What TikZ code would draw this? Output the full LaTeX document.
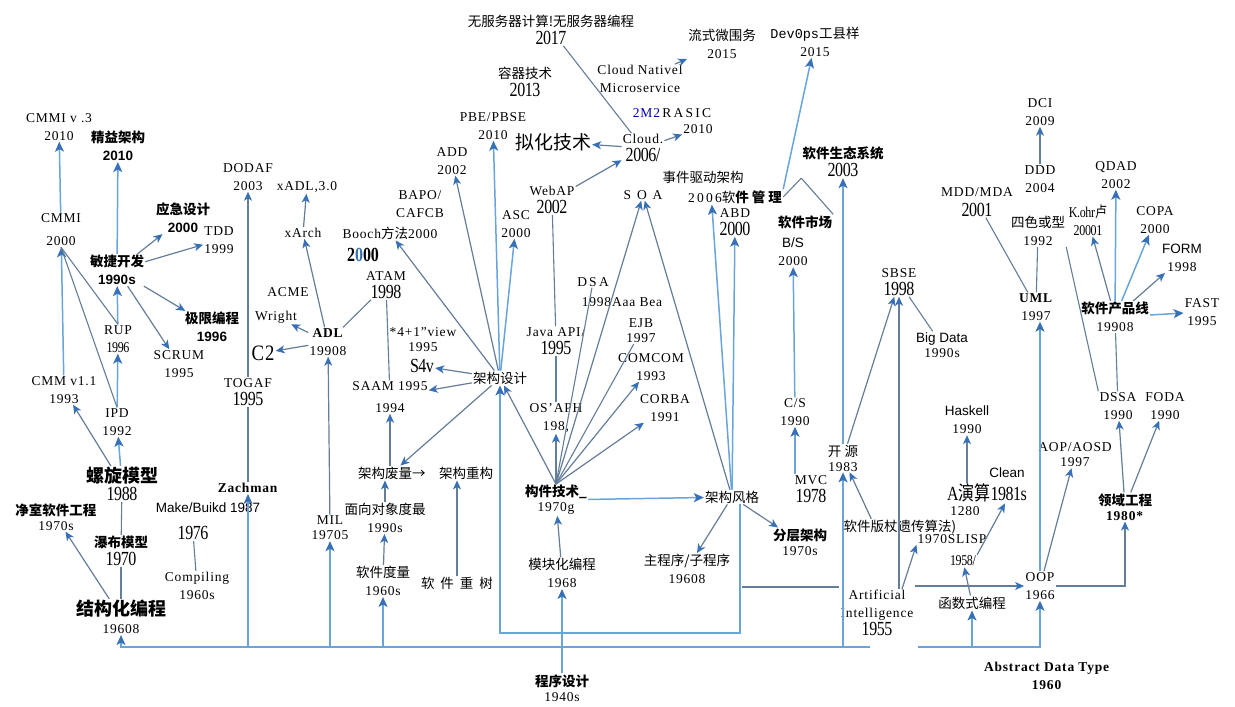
\documentclass[tikz,border=0pt]{standalone}
\usepackage{fontspec}
\usepackage{graphicx}
\setmainfont{Liberation Serif}[LetterSpace=6]
\newfontfamily\cjk{Noto Sans CJK SC}
\newfontfamily\sans{Liberation Sans}
\newfontfamily\mono{Liberation Mono}
\newfontfamily\tight{Liberation Serif}[LetterSpace=-3]
\usetikzlibrary{arrows.meta, calc, positioning}
\definecolor{lblue}{RGB}{105,165,218}
\definecolor{gblue}{RGB}{100,125,152}
\definecolor{headc}{RGB}{55,112,182}
\newcommand{\zh}[1]{{\cjk #1}}
\newcommand{\zb}[1]{{\cjk\bfseries #1}}
\newcommand{\yr}[1]{\scalebox{0.8}[1]{\tight\fontsize{20}{20}\selectfont #1}}
\newcommand{\ys}[1]{\scalebox{0.8}[1]{\tight\fontsize{15}{15}\selectfont #1}}

\begin{document}
\begin{tikzpicture}[x=1pt,y=-1pt,
	every node/.style={font=\fontsize{13.5}{18}\selectfont, align=center, inner sep=1pt},
	barrow/.style={draw=lblue, line width=1.5pt, -{Stealth[length=10pt,width=9pt,inset=2.5pt,color=headc]}},
	garrow/.style={draw=gblue, line width=1.2pt, -{Stealth[length=9pt,width=8pt,inset=2.5pt,color=headc]}},
	gline/.style={draw=gblue, line width=1.1pt},
	bline/.style={draw=lblue, line width=1.5pt}]
	\useasboundingbox (0,0) rectangle (1235,707);

	\path (59,127) node (cmmiv) {CMMI v .3\\2010}
		(118,146) node (lean) {\zb{精益架构}\\{\sans\bfseries 2010}}
		(61,230) node (cmmi) {CMMI\\[5pt]2000}
		(117,270) node (agile) {\zb{敏捷开发}\\{\sans\bfseries 1990s}}
		(183,218) node (emerg) {\zb{应急设计}\\{\sans\bfseries 2000}}
		(219,240) node (tdd) {TDD\\1999}
		(212,327) node (xp) {\zb{极限编程}\\{\sans\bfseries 1996}}
		(179,364) node (scrum) {SCRUM\\1995}
		(118,339) node (rup) {RUP\\\ys{1996}}
		(64,390) node (cmm) {CMM v1.1\\1993}
		(117,422) node (ipd) {IPD\\1992}
		(122,484) node (spiral) {{\cjk\bfseries\fontsize{18}{18}\selectfont 螺旋模型}\\\yr{1988}}
		(56,517) node (cleanroom) {\zb{净室软件工程}\\[-3pt]1970s}
		(121,551) node (waterfall) {\zb{瀑布模型}\\\yr{1970}}
		(121,617) node (struct) {{\cjk\bfseries\fontsize{18}{18}\selectfont 结构化编程}\\19608}
		(197,586) node (compiling) {Compiling\\1960s}
		(193,533) node (yseventysix) {\yr{1976}}
		(208,508) node (make) {{\sans Make/Buikd 1987}}
		(248,488) node (zachman) {\textbf{Zachman}}
		(248,392) node (togaf) {TOGAF\\\yr{1995}}
		(248,177) node (dodaf) {DODAF\\2003}
		(307,187) node (xadl) {xADL,3.0}
		(303,233) node (xarch) {xArch}
		(390,233) node (booch) {Booch\zh{方法}2000}
		(288,292) node (acme) {ACME}
		(276,317) node (wright) {Wright}
		(263,353) node (ctwo) {\scalebox{0.85}[1]{\fontsize{22}{22}\selectfont C2}}
		(328,342) node (adl) {\textbf{ADL}\\19908}
		(363,255) node (ytwok) {\bfseries\yr{2{\color{headc}0}00}}
		(386,285) node (atam) {ATAM\\\yr{1998}}
		(423,340) node (view) {*4+1"view\\[-3pt]1995}
		(422,366) node (sfv) {\yr{S4v}}
		(390,397) node (saam) {SAAM 1995\\[4pt]1994}
		(500,378) node (arch) {\zh{架构设计}};

	\path (330,528) node (mil) {MIL\\[-3pt]19705}
		(385,518) node (oom) {\zh{面向对象度最}\\1990s}
		(383,581) node (metric) {\zh{软件度量}\\1960s}
		(357,473) node[anchor=west] (waste) {\zh{架构废量→}}
		(438,473) node[anchor=west] (refac) {\zh{架构重构}}
		(457,583) node (reuse) {\zh{软\hspace{6pt}件\hspace{6pt}重\hspace{6pt}树}}
		(556,500) node (comp) {\zb{构件技术\_}\\[-3pt]1970g}
		(562,573) node (modular) {\zh{模块化编程}\\1968}
		(562,688) node (prog) {\zb{程序设计}\\[-3pt]1940s}
		(732,497) node (style) {\zh{架构风格}}
		(800,542) node (layer) {\zb{分层架构}\\[-3pt]1970s}
		(687,569) node (mainsub) {\zh{主程序/子程序}\\19608}
		(877,613) node (ai) {Artificial\\Intelligence\\\yr{1955}}
		(811,489) node (mvc) {MVC\\\yr{1978}}
		(843,458) node (open) {\zh{开 源}\\[-3pt]1983}
		(900,527) node (ga) {\zh{软件版杖遗传算法)}}
		(952,539) node (lisp) {1970SLISP}
		(963,561) node (yfiftyeight) {\ys{1958/}}
		(972,603) node (func) {\zh{函数式编程}}
		(987,493) node (lambda) {\yr{A\zh{演算}1981s}}
		(965,511) node (ytwelve) {1280}
		(1007,473) node (clean) {{\sans Clean}}
		(967,420) node (haskell) {{\sans Haskell}\\1990}
		(1040,586) node (oop) {OOP\\1966}
		(1047,676) node (adt) {\textbf{Abstract Data Type}\\\textbf{1960}}
		(1075,455) node (aop) {AOP/AOSD\\[-3pt]1997}
		(1125,507) node (domain) {\zb{领域工程}\\[-3pt]\textbf{1980*}}
		(1118,406) node (dssa) {DSSA\\1990}
		(1165,406) node (foda) {FODA\\1990};

	\path (1115,317) node (spl) {\zb{软件产品线}\\19908}
		(1202,312) node (fast) {FAST\\1995}
		(1182,258) node (form) {{\sans FORM}\\1998}
		(1155,220) node (copa) {COPA\\2000}
		(1088,220) node (kohr) {\ys{K.ohr\zh{卢}}\\\ys{20001}}
		(1116,175) node (qdad) {QDAD\\2002}
		(1038,231) node (four) {\zh{四色或型}\\1992}
		(977,202) node (mdd) {MDD/MDA\\[2pt]\yr{2001}}
		(1040,179) node (ddd) {DDD\\2004}
		(1040,112) node (dci) {DCI\\2009}
		(1036,307) node (uml) {\textbf{UML}\\1997}
		(942,345) node (bigdata) {{\sans Big Data}\\[-3pt]1990s}
		(899,282) node (sbse) {SBSE\\\yr{1998}}
		(795,412) node (cs) {C/S\\1990}
		(793,252) node (bs) {{\sans B/S}\\2000}
		(805,222) node (market) {\zb{软件市场}}
		(843,162) node (eco) {\zb{软件生态系统}\\\yr{2003}}
		(643,195) node (soa) {S\hspace{6pt}O\hspace{6pt}A}
		(735,197) node (mgmt) {2\,0\,0\,6\zh{软}\zb{件 管 理}}
		(703,177) node (eda) {\zh{事件驱动架构}}
		(735,222) node (abd) {ABD\\\yr{2000}}
		(643,148) node (cloud) {Cloud.\\\yr{2006/}}
		(640,79) node (cnative) {Cloud Nativel\\Microservice}
		(672,113) node (rasic) {{\color{blue!70!black}2M2}\,R\,A\,S\,I\,C}
		(698,129) node (rtwo) {2010}
		(722,44) node (stream) {\zh{流式微围务}\\2015}
		(815,42) node (devops) {{\mono Dev0ps}\zh{工县样}\\2015}
		(551,30) node (serverless) {\zh{无服务器计算!无服务器编程}\\\yr{2017}}
		(525,82) node (container) {\zh{容器技术}\\\yr{2013}}
		(493,126) node (pbe) {PBE/PBSE\\2010}
		(553,142) node (virt) {{\cjk\fontsize{19}{19}\selectfont 拟化技术}}
		(452,161) node (add) {ADD\\2002}
		(420,204) node (bapo) {BAPO/\\CAFCB}
		(552,200) node (webap) {WebAP\\\yr{2002}}
		(516,224) node (asc) {ASC\\2000}
		(556,341) node (javaapi) {Java API/\\\yr{1995}}
		(556,418) node (osaph) {OS'APH\\198,}
		(593,282) node (dsa) {D\,S\,A}
		(622,302) node (bea) {1998Aaa Bea}
		(641,331) node (ejb) {EJB\\[-3pt]1997}
		(651,367) node (comcom) {COMCOM\\1993}
		(665,408) node (corba) {CORBA\\1991};

	\coordinate (bl) at (870,647);
	\coordinate (br) at (918,647);
	\coordinate (sc) at (740,633);
	\coordinate (ac) at (742,587);

	\draw[barrow] (cmmi) -- (cmmiv);
	\draw[barrow] (agile) -- (lean);
	\draw[garrow] (agile) -- (emerg);
	\draw[garrow] (agile) -- (tdd);
	\draw[garrow] (agile) -- (xp);
	\draw[garrow] (agile) -- (scrum);
	\draw[barrow] (rup) -- (agile);
	\draw[barrow] (ipd) -- (rup);
	\draw[barrow] (cmm) -- (cmmi);
	\draw[gline] (cmmi.south) -- (rup.north);
	\draw[gline] (cmmi.south) -- (ipd.north);
	\draw[garrow] (spiral) -- (cmm);
	\draw[barrow] (spiral) -- (ipd);
	\draw[gline] (waterfall) -- (spiral);
	\draw[gline] (struct) -- (waterfall);
	\draw[garrow] (struct) -- (cleanroom);
	\draw[gline] (yseventysix) -- (compiling);
	\draw[gline] (zachman) -- (togaf);
	\draw[garrow] (togaf) -- (dodaf);
	\draw[garrow] (xarch) -- (xadl);
	\draw[garrow] (adl) -- (xarch);
	\draw[gline] (adl) -- (atam);
	\draw[garrow] (adl) -- (wright);
	\draw[garrow] (adl) -- (ctwo);
	\draw[garrow] (mil) -- (adl);
	\draw[gline] (saam) -- (atam);
	\draw[garrow] (arch) -- (booch);
	\draw[garrow] (arch) -- (add);
	\draw[barrow] (arch) -- (pbe);
	\draw[barrow] (arch) -- (asc);
	\draw[garrow] (arch) -- (sfv);
	\draw[garrow] (arch) -- (saam);
	\draw[garrow] (arch) -- (waste);
	\draw[garrow] (metric) -- (oom);
	\draw[garrow] (oom) -- (oom |- waste.south);
	\draw[garrow] (waste.north -| saam) -- (saam);
	\draw[garrow] (reuse) -- (reuse |- refac.south);
	\draw[barrow] (prog) -- (modular);
	\draw[garrow] (modular) -- (comp);
	\draw[barrow] (comp) -- (style);
	\draw[garrow] (comp.north) -- (arch);
	\draw[garrow] (comp.north) -- (osaph);
	\draw[garrow] (comp.north) -- (soa);
	\draw[gline] (comp.north) -- (dsa);
	\draw[gline] (comp.north) -- (ejb);
	\draw[garrow] (comp.north) -- (comcom);
	\draw[garrow] (comp.north) -- (corba);
	\draw[gline] (osaph) -- (javaapi);
	\draw[gline] (javaapi) -- (webap);
	\draw[garrow] (style) -- (mainsub);
	\draw[garrow] (style) -- (layer);
	\draw[barrow] (style) -- (abd);
	\draw[barrow] (style) -- ($(mgmt.south west)+(25,0)$);
	\draw[garrow] (style) -- (soa);
	\draw[barrow] (style.south -| sc) -- (sc) -| (arch.south);
	\draw[gline] (ac) -- (ac -| ai.west);
	\draw[garrow] (ai.east |- oop.west) -- (oop.west);
	\draw[garrow] ($(ai.north)+(25,0)$) -- (lisp.south west);
	\draw[garrow] (ai.north -| sbse) -- (sbse);
	\draw[garrow] (open) -- (sbse);
	\draw[barrow] (open) -- (eco);
	\draw[garrow] ($(ga.north west)!0.25!(ga.north east)$) -- (open);
	\draw[barrow] (mvc.north -| cs) -- (cs);
	\draw[barrow] (cs) -- (bs);
	\draw[gline] (mgmt.east) -- (eco.south west);
	\draw[gline] (market.north east) -- (eco.south west);
	\draw[gline] (sbse) -- (bigdata);
	\draw[garrow] (func) -- (yfiftyeight);
	\draw[garrow] (yfiftyeight.north east) -- ($(lambda.south)+(18,0)$);
	\draw[garrow] (lambda.north -| haskell) -- (haskell);
	\draw[barrow] (oop.north) -- (oop.north |- uml.south);
	\draw[garrow] (oop) -- (aop);
	\draw[garrow] (oop.east) -| (domain.south);
	\draw[garrow] (domain) -- (dssa);
	\draw[garrow] (domain) -- (foda);
	\draw[gline] (dssa) -- (spl);
	\draw[gline] (dssa.north west) -- (four.south east);
	\draw[gline] (uml) -- (four);
	\draw[gline] (uml) -- (mdd);
	\draw[garrow] (ddd) -- (dci);
	\draw[garrow] (spl) -- (kohr);
	\draw[barrow] (spl) -- (qdad);
	\draw[barrow] (spl) -- (copa);
	\draw[garrow] (spl) -- (form);
	\draw[barrow] (spl) -- (fast);
	\draw[garrow] (cloud) -- (virt);
	\draw[garrow] (webap) -- (cloud);
	\draw[gline] (cloud) -- (serverless);
	\draw[garrow] (cloud) -- (rtwo);
	\draw[garrow] (cnative) -- (stream);
	\draw[barrow] (mgmt.north east) -- (devops);
	\draw[barrow] (bl) -| (struct);
	\draw[barrow] (bl) -| (zachman);
	\draw[barrow] (bl) -| (mil);
	\draw[barrow] (bl) -| (metric);
	\draw[barrow] (bl -| open) -- (open);
	\draw[barrow] (br) -| (func);
	\draw[barrow] (br) -| (oop);
\end{tikzpicture}
\end{document}
